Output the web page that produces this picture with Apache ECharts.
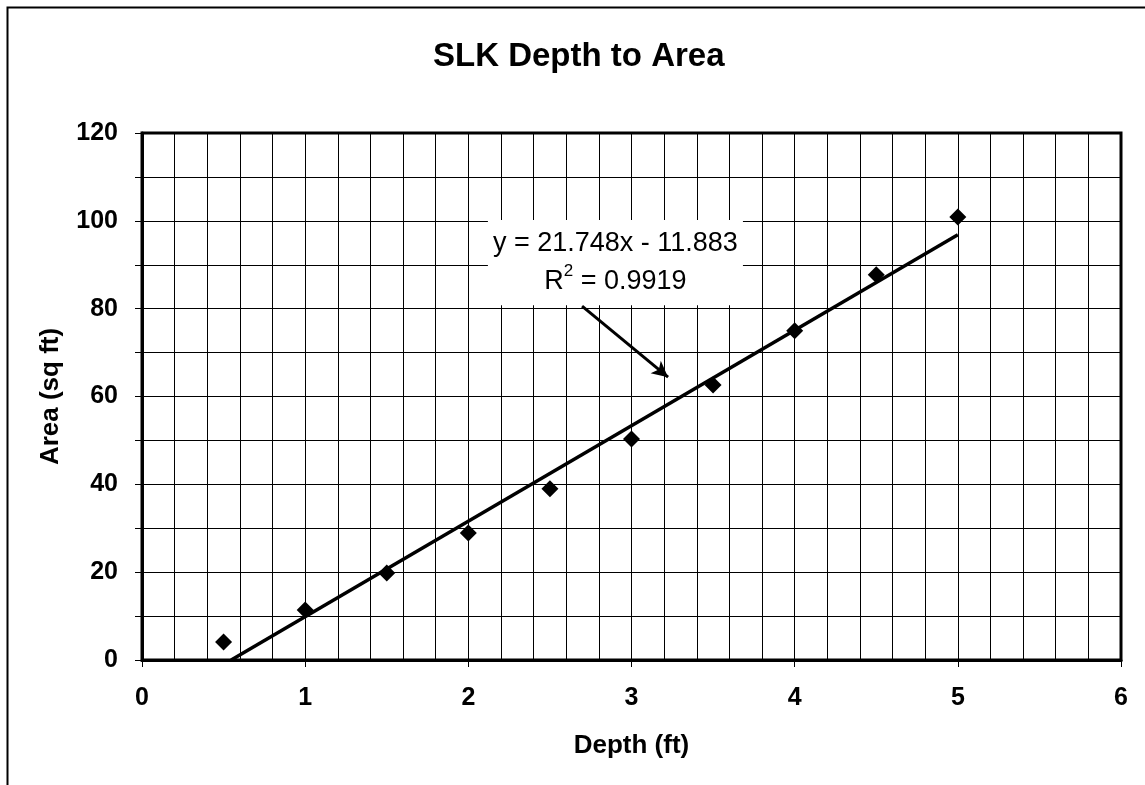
<!DOCTYPE html>
<html><head><meta charset="utf-8">
<script src="https://cdn.jsdelivr.net/npm/echarts@6/dist/echarts.min.js"></script>
<style>html,body{margin:0;padding:0;background:#fff;overflow:hidden}#c{width:1145px;height:785px}</style>
</head><body><div id="c"></div>
<script>
// ---- data ----
const depth = [0.5, 1, 1.5, 2, 2.5, 3, 3.5, 4, 4.5, 5];
const area = [4.1, 11.4, 19.8, 28.9, 39.0, 50.3, 62.6, 75.0, 87.7, 100.9];
const fitSlope = 21.748;
const fitIntercept = -11.883;
const fitR2 = 0.9919;
const trendRange = [-fitIntercept / fitSlope, 5];
const titleText = 'SLK Depth to Area';
const xName = 'Depth (ft)';
const yName = 'Area (sq ft)';
// annotation placement in data units
const noteBox = [[2.12, 100.2], [3.683, 80.8]];
const arrowFrom = [2.697, 80.6];
const arrowTo = [3.224, 64.4];

const FONT = '"Liberation Sans", Arial, sans-serif';
const chart = echarts.init(document.getElementById('c'), null, {renderer: 'canvas'});
const points = depth.map((d, i) => [d, area[i]]);
const trend = trendRange.map(x => [x, fitSlope * x + fitIntercept]);

chart.setOption({
  backgroundColor: '#fff',
  animation: false,
  title: {
    text: titleText, left: 433, top: 40, padding: 0,
    textStyle: {fontFamily: FONT, fontSize: 33, fontWeight: 'bold', color: '#000'}
  },
  graphic: [{
    type: 'rect', left: 5, top: 5, silent: true, z: -10,
    shape: {width: 1200, height: 900},
    style: {fill: null, stroke: '#000', lineWidth: 2}
  }],
  grid: {left: 142, right: 24, top: 133, bottom: 125, show: true, borderColor: '#000', borderWidth: 3, backgroundColor: 'transparent'},
  xAxis: {
    type: 'value', min: 0, max: 6, interval: 1,
    name: xName, nameLocation: 'middle', nameGap: 73,
    nameTextStyle: {fontFamily: FONT, fontSize: 26, fontWeight: 'bold', color: '#000'},
    axisLine: {show: true, lineStyle: {color: '#000', width: 3}},
    axisTick: {show: true, inside: false, length: 7, lineStyle: {color: '#000', width: 1}},
    minorTick: {show: false, splitNumber: 5},
    splitLine: {show: true, lineStyle: {color: '#000', width: 1}},
    minorSplitLine: {show: true, lineStyle: {color: '#000', width: 1}},
    axisLabel: {margin: 26, fontFamily: FONT, fontSize: 25, fontWeight: 'bold', color: '#000'}
  },
  yAxis: {
    type: 'value', min: 0, max: 120, interval: 20,
    name: yName, nameLocation: 'middle', nameGap: 78,
    nameTextStyle: {fontFamily: FONT, fontSize: 26, fontWeight: 'bold', color: '#000'},
    axisLine: {show: true, lineStyle: {color: '#000', width: 3}},
    axisTick: {show: true, inside: false, length: 7, lineStyle: {color: '#000', width: 1}},
    minorTick: {show: true, splitNumber: 2, length: 7, lineStyle: {color: '#000', width: 1}},
    splitLine: {show: true, lineStyle: {color: '#000', width: 1}},
    minorSplitLine: {show: true, lineStyle: {color: '#000', width: 1}},
    axisLabel: {margin: 24, fontFamily: FONT, fontSize: 25, fontWeight: 'bold', color: '#000', padding: [6, 0, 0, 0]}
  },
  series: [
    {
      type: 'line', data: trend, showSymbol: false, symbol: 'none', silent: true,
      lineStyle: {color: '#000', width: 3.5}, z: 3,
      markArea: {
        silent: true,
        itemStyle: {color: '#fff', borderWidth: 0},
        label: {
          show: true, position: 'inside', align: 'center', verticalAlign: 'middle',
          fontFamily: FONT, fontSize: 27, color: '#000', lineHeight: 38,
          formatter: () => 'y = ' + fitSlope.toFixed(3) + 'x - ' + Math.abs(fitIntercept).toFixed(3) + '\nR{sup|2} = ' + fitR2.toFixed(4),
          rich: {sup: {fontFamily: FONT, fontSize: 17, color: '#000', verticalAlign: 'top', lineHeight: 38, padding: [0, 0, 16, 0]}}
        },
        data: [[{coord: noteBox[0]}, {coord: noteBox[1]}]]
      },
      markLine: {
        silent: true, symbol: ['none', 'arrow'], symbolSize: [12, 16],
        lineStyle: {color: '#000', width: 3, type: 'solid'},
        label: {show: false},
        data: [[{coord: arrowFrom}, {coord: arrowTo}]]
      }
    },
    {
      type: 'scatter', data: points, symbol: 'diamond', symbolSize: [17, 17],
      itemStyle: {color: '#000', opacity: 1}, z: 4
    }
  ]
});
</script>
</body></html>
